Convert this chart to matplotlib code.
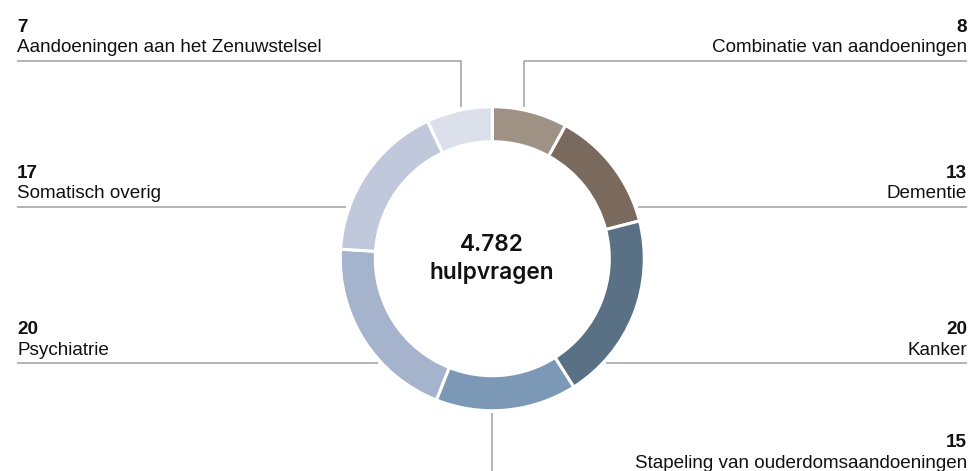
import matplotlib
matplotlib.use("Agg")
import matplotlib.pyplot as plt

# Data
categories = ["Combinatie van aandoeningen", "Dementie", "Kanker",
              "Stapeling van ouderdomsaandoeningen", "Psychiatrie",
              "Somatisch overig", "Aandoeningen aan het Zenuwstelsel"]
values = [8, 13, 20, 15, 20, 17, 7]
colors = ["#a09185", "#7a6a5e", "#5a7185", "#7b98b7", "#a5b3cd", "#c0c9dc", "#dbe0eb"]
total_label = "4.782"
total_sub = "hulpvragen"

W, H = 971, 471
fig = plt.figure(figsize=(W / 100, H / 100), dpi=100)
ax = fig.add_axes([0, 0, 1, 1])

def Y(y):
    return H - y

cx, cy, R = 492.3, 258.7, 152
ax.pie(values, colors=colors, startangle=90, counterclock=False,
       center=(cx, Y(cy)), radius=R, frame=True,
       wedgeprops=dict(width=35, edgecolor="white", linewidth=2.2))
ax.set_xlim(0, W)
ax.set_ylim(0, H)
ax.set_aspect("equal")
ax.axis("off")

font = "Liberation Sans"
fs = 13.6
lc = "#9f9f9f"
lw = 1.1

def label(i, x, ybase, ha):
    ax.text(x, Y(ybase - 21), str(values[i]), ha=ha, va="baseline",
            fontsize=fs, fontweight="bold", family=font, color="#111111")
    ax.text(x, Y(ybase), categories[i], ha=ha, va="baseline",
            fontsize=fs, family=font, color="#111111")

def line(xs, ys):
    ax.plot(xs, [Y(v) for v in ys], color=lc, lw=lw, solid_capstyle="butt")

label(6, 17, 52.5, "left")
line([17, 461, 461], [61, 61, 107])
label(0, 967, 52.5, "right")
line([967, 524.3, 524.3], [61, 61, 107])
label(5, 17, 198.5, "left")
line([17, 346], [207, 207])
label(1, 967, 198.5, "right")
line([638, 967], [207, 207])
label(4, 17, 355, "left")
line([17, 378], [363, 363])
label(2, 967, 355, "right")
line([606, 967], [363, 363])
label(3, 967, 468, "right")
line([491.7, 491.7], [413, 472])

cfont = ["Inter", "Liberation Sans"]
ax.text(cx, Y(251), total_label, ha="center", va="baseline", fontsize=16.3,
        fontweight="semibold", family=cfont, color="#111111")
ax.text(cx, Y(279), total_sub, ha="center", va="baseline", fontsize=16.3,
        fontweight="semibold", family=cfont, color="#111111")

fig.savefig("out.png", dpi=100, facecolor="white")
